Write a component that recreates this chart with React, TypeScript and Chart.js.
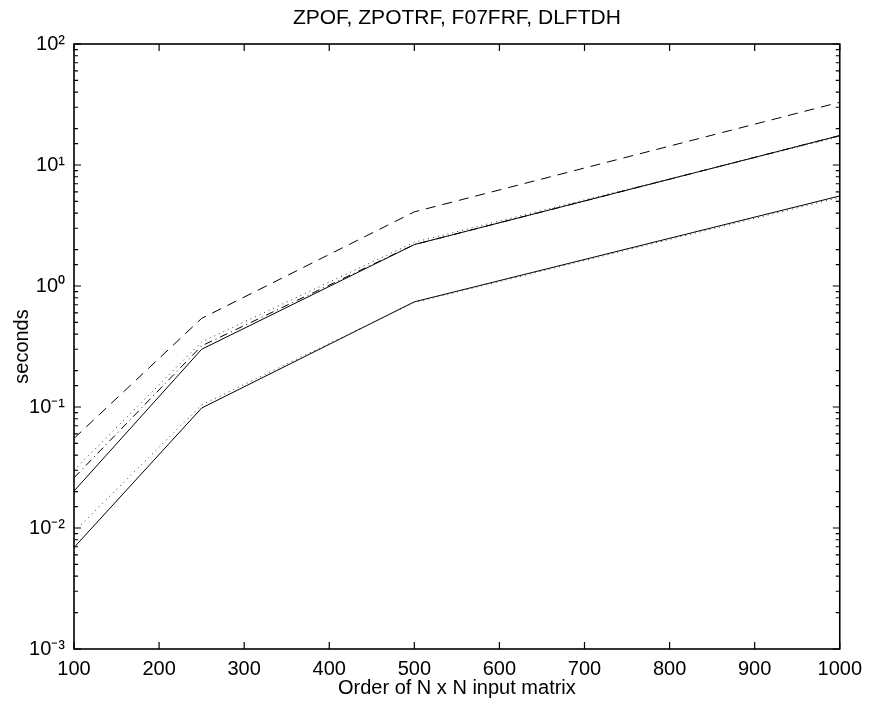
import React, { useEffect, useRef } from 'react';
import { Chart, registerables } from 'chart.js';

Chart.register(...registerables);

const titleText = 'ZPOF, ZPOTRF, F07FRF, DLFTDH';
const xAxisLabel = 'Order of N x N input matrix';
const yAxisLabel = 'seconds';

const orderN = [100, 250, 500, 1000];
const dashedTimes = [0.055, 0.54, 4.1, 33];
const solidUpperTimes = [0.0202, 0.3, 2.2, 17.5];
const dottedUpperTimes = [0.03, 0.345, 2.3, 17.2];
const dashDotUpperTimes = [0.026, 0.32, 2.2, 17.5];
const solidLowerTimes = [0.0069, 0.098, 0.74, 5.55];
const dottedLowerTimes = [0.0093, 0.104, 0.73, 5.4];

const xMin = 100;
const xMax = 1000;
const xStep = 100;
const yMin = 1e-3;
const yMax = 1e2;

const FONT = "'Liberation Sans', Arial, Helvetica, sans-serif";
const sup: Record<string, string> = {
  '-': '\u207B', '0': '\u2070', '1': '\u00B9', '2': '\u00B2', '3': '\u00B3',
  '4': '\u2074', '5': '\u2075', '6': '\u2076', '7': '\u2077', '8': '\u2078', '9': '\u2079',
};

function isPow10(v: number) {
  const e = Math.log10(v);
  return Math.abs(e - Math.round(e)) < 1e-6;
}
function pow10Label(v: number) {
  if (!isPow10(v)) return '';
  const r = Math.round(Math.log10(v));
  return '10' + String(r).split('').map((c) => sup[c]).join('');
}

function series(values: number[]) {
  return orderN.map((n, i) => ({ x: n, y: values[i] }));
}

const innerTicks = {
  id: 'innerTicks',
  afterDatasetsDraw(chart: any) {
    const { ctx, chartArea, scales } = chart;
    const { left, right, top, bottom } = chartArea;
    const xs = scales.x;
    const ys = scales.y;
    ctx.save();
    ctx.strokeStyle = '#000';
    ctx.lineWidth = 1.2;
    ctx.beginPath();
    xs.ticks.forEach((t: any) => {
      const px = xs.getPixelForValue(t.value);
      ctx.moveTo(px, bottom);
      ctx.lineTo(px, bottom - 7);
      ctx.moveTo(px, top);
      ctx.lineTo(px, top + 7);
    });
    ys.ticks.forEach((t: any) => {
      const py = ys.getPixelForValue(t.value);
      const len = isPow10(t.value) ? 7 : 4;
      ctx.moveTo(left, py);
      ctx.lineTo(left + len, py);
      ctx.moveTo(right, py);
      ctx.lineTo(right - len, py);
    });
    ctx.stroke();
    ctx.lineWidth = 1.6;
    ctx.strokeRect(left, top, right - left, bottom - top);
    ctx.restore();
  },
};

export default function App() {
  const ref = useRef<HTMLCanvasElement | null>(null);
  useEffect(() => {
    if (!ref.current) return;
    const lineBase = { borderColor: '#000', borderWidth: 1, pointRadius: 0, tension: 0, fill: false };
    const chart = new Chart(ref.current, {
      type: 'line',
      data: {
        datasets: [
          { ...lineBase, label: 'dashed', data: series(dashedTimes), borderDash: [10, 7] },
          { ...lineBase, label: 'dotted upper', data: series(dottedUpperTimes), borderDash: [1, 4], borderColor: '#333' },
          { ...lineBase, label: 'dash-dot upper', data: series(dashDotUpperTimes), borderDash: [8, 4, 1, 4] },
          { ...lineBase, label: 'solid upper', data: series(solidUpperTimes) },
          { ...lineBase, label: 'dotted lower', data: series(dottedLowerTimes), borderDash: [1, 4], borderColor: '#333' },
          { ...lineBase, label: 'solid lower', data: series(solidLowerTimes) },
        ],
      },
      options: {
        responsive: false,
        animation: false,
        devicePixelRatio: 1,
        layout: { padding: { left: 0, right: 26, top: 0, bottom: 0 } },
        plugins: {
          legend: { display: false },
          tooltip: { enabled: false },
          title: {
            display: true,
            text: titleText,
            fullSize: false,
            color: '#000',
            font: { family: FONT, size: 21, weight: 'normal' },
            padding: { top: 6, bottom: 12.8 },
          },
        },
        scales: {
          x: {
            type: 'linear',
            min: xMin,
            max: xMax,
            grid: { display: false, drawTicks: false },
            border: { display: false },
            ticks: {
              stepSize: xStep,
              color: '#000',
              font: { family: FONT, size: 20 },
              padding: 8,
              maxRotation: 0,
              autoSkip: false,
              callback: (v: any) => String(v),
            },
            title: {
              display: true,
              text: xAxisLabel,
              color: '#000',
              font: { family: FONT, size: 20 },
              padding: { top: 0, bottom: 5 },
            },
            afterFit: (s: any) => { s.height = 56; },
          },
          y: {
            type: 'logarithmic',
            min: yMin,
            max: yMax,
            grid: { display: false, drawTicks: false },
            border: { display: false },
            ticks: {
              color: '#000',
              font: { family: FONT, size: 20 },
              padding: 9,
              autoSkip: false,
              callback: (v: any) => pow10Label(Number(v)),
            },
            title: {
              display: true,
              text: yAxisLabel,
              color: '#000',
              font: { family: FONT, size: 20 },
              padding: { top: 10, bottom: 0 },
            },
            afterFit: (s: any) => { s.width = 74; },
          },
        },
      },
      plugins: [innerTicks],
    });
    return () => chart.destroy();
  }, []);
  return (
    <div style={{ position: 'absolute', left: 0, top: 0, width: 870, height: 705, background: '#fff' }}>
      <canvas ref={ref} width={870} height={705} style={{ display: 'block' }} />
    </div>
  );
}
